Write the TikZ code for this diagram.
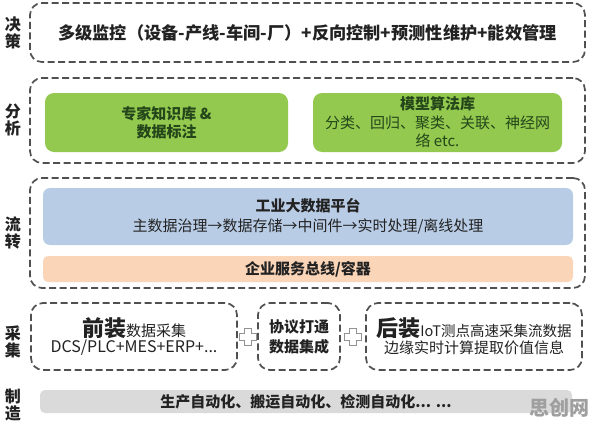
\documentclass[tikz,border=0pt]{standalone}
\usepackage{fontspec}
\setmainfont{Noto Sans CJK SC}
\definecolor{dashc}{HTML}{505050}
\definecolor{greenf}{HTML}{92C94E}
\definecolor{greent}{HTML}{24461A}
\definecolor{bluef}{HTML}{B9CCE6}
\definecolor{orangef}{HTML}{FBD5B8}
\definecolor{grayf}{HTML}{DADADA}
\definecolor{txt}{HTML}{222222}
\begin{document}
\begin{tikzpicture}[x=1pt,y=-1pt,
  dbox/.style={draw=dashc, line width=1.7pt, dash pattern=on 7pt off 3.5pt, rounded corners=12pt, fill=white, inner sep=0pt},
  gbox/.style={fill=greenf, rounded corners=9pt, inner sep=0pt, align=center, text=greent, font=\fontsize{15}{18.5}\selectfont},
  fbox/.style={rounded corners=7pt, inner sep=0pt, align=center, text=txt},
  side/.style={align=center, inner sep=0pt, text=txt, font=\bfseries\fontsize{16}{17}\selectfont},
  plusmark/.style={draw=gray!85, line width=1.1pt, fill=white}
]
\useasboundingbox (0,0) rectangle (596,423);
\fill[white] (0,0) rectangle (596,423);

% side labels
\node[side] (l1) at (13,33) {决\\策};
\node[side] (l2) at (13,120) {分\\析};
\node[side] (l3) at (13,233) {流\\转};
\node[side] (l4) at (13,342) {采\\集};
\node[side] (l5) at (13,405) {制\\造};

% decision layer
\node[dbox, minimum width=555pt, minimum height=59pt] (top) at (307.5,32.5) {};
\node[text=txt, font=\bfseries\fontsize{17.2}{19}\selectfont] (toptxt) at (top.center) {多级监控（设备-产线-车间-厂）+反向控制+预测性维护+能效管理};

% analysis layer
\node[dbox, minimum width=555pt, minimum height=85pt] (ana) at (307.5,120.5) {};
\node[gbox, minimum width=243pt, minimum height=59pt] (kb) at (166.5,122.5) {\bfseries 专家知识库 \&\\\bfseries 数据标注};
\node[gbox, minimum width=249pt, minimum height=59pt] (ml) at (437.5,122.5) {\bfseries 模型算法库\\分类、回归、聚类、关联、神经网\\络 etc.};

% flow layer
\node[dbox, minimum width=555pt, minimum height=110pt] (flow) at (307.5,233) {};
\node[fbox, fill=bluef, minimum width=530pt, minimum height=57pt, font=\fontsize{15}{20}\selectfont] (plat) at (308,216.5) {\bfseries 工业大数据平台\\主数据治理→数据存储→中间件→实时处理/离线处理};
\node[fbox, fill=orangef, rounded corners=5pt, minimum width=530pt, minimum height=26pt, font=\bfseries\fontsize{15}{17}\selectfont] (bus) at (308,269) {企业服务总线/容器};

% acquisition layer
\node[dbox, minimum width=206pt, minimum height=67pt] (pre) at (134,336.5) {};
\node[align=center, text=txt, inner sep=0pt] (pretxt) at (pre.center) {{\bfseries\fontsize{22}{24}\selectfont 前装}{\fontsize{15}{17}\selectfont 数据采集}\\[1pt]{\fontsize{16}{18}\selectfont DCS/PLC+MES+ERP+...}};
\node[dbox, minimum width=82pt, minimum height=67pt] (proto) at (299,336.5) {};
\node[align=center, text=txt, inner sep=0pt, font=\bfseries\fontsize{15}{20}\selectfont] (prototxt) at (proto.center) {协议打通\\数据集成};
\node[dbox, minimum width=216pt, minimum height=67pt] (post) at (474,336.5) {};
\node[align=center, text=txt, inner sep=0pt] (posttxt) at (post.center) {{\bfseries\fontsize{22}{24}\selectfont 后装}{\fontsize{14.5}{17}\selectfont IoT测点高速采集流数据}\\[1pt]{\fontsize{15}{18}\selectfont 边缘实时计算提取价值信息}};

\coordinate (p1) at (248,337);
\coordinate (p2) at (353,337);
\foreach \p in {p1,p2}{
  \draw[plusmark] ([shift={(-3.5,-8.5)}]\p) -- ([shift={(3.5,-8.5)}]\p) -- ([shift={(3.5,-3.5)}]\p) -- ([shift={(8.5,-3.5)}]\p) -- ([shift={(8.5,3.5)}]\p) -- ([shift={(3.5,3.5)}]\p) -- ([shift={(3.5,8.5)}]\p) -- ([shift={(-3.5,8.5)}]\p) -- ([shift={(-3.5,3.5)}]\p) -- ([shift={(-8.5,3.5)}]\p) -- ([shift={(-8.5,-3.5)}]\p) -- ([shift={(-3.5,-3.5)}]\p) -- cycle;
}

% manufacturing
\node[fbox, fill=grayf, rounded corners=5pt, minimum width=532pt, minimum height=23pt, font=\bfseries\fontsize{15}{17}\selectfont] (mfg) at (306,401.5) {生产自动化、搬运自动化、检测自动化... ...};

% watermark
\node[text=gray!75, inner sep=0pt, font=\bfseries\fontsize{20}{21}\selectfont] (wm) at (559,408) {思创网};
\end{tikzpicture}
\end{document}
